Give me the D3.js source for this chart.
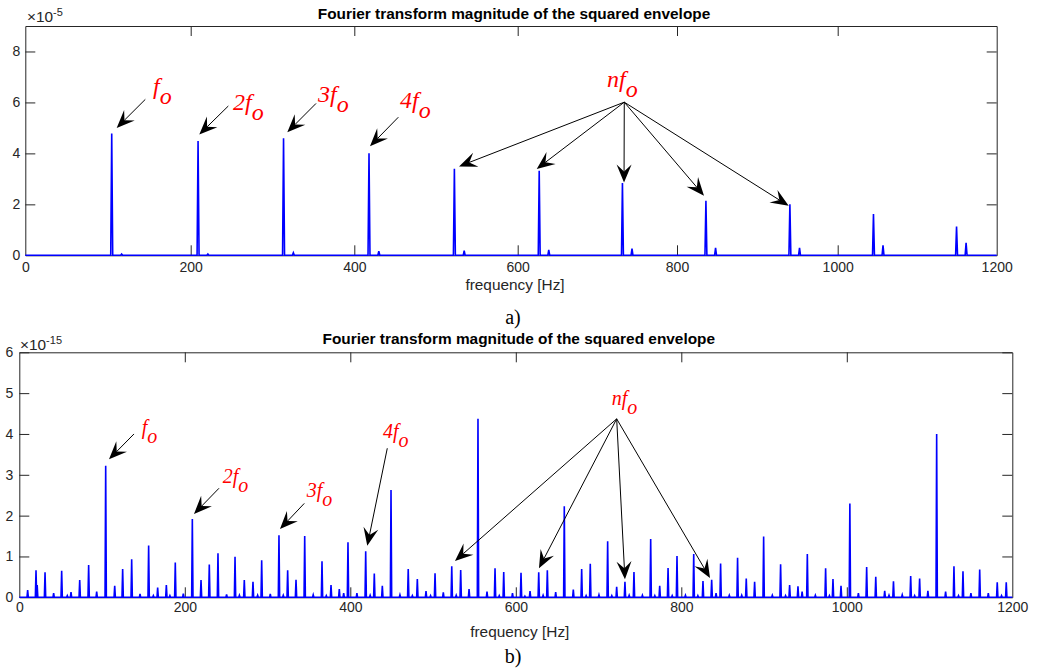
<!DOCTYPE html>
<html>
<head>
<meta charset="utf-8">
<script src="https://cdn.jsdelivr.net/npm/d3@7"></script>
<style>
body { margin: 0; background: #fff; }
svg { display: block; }
.tick text { font-family: "Liberation Sans", Arial, sans-serif; font-size: 14px; fill: #262626; }
.tick line, .domain { stroke: #262626; stroke-width: 1; }
</style>
</head>
<body>
<svg id="chart" width="1038" height="668"></svg>
<script>
// ---- data ----
const xTicks = [0, 200, 400, 600, 800, 1000, 1200];
const topYTicks = [0, 2, 4, 6, 8];
const bottomYTicks = [0, 1, 2, 3, 4, 5, 6];

// panel a): harmonic peaks (x1e-5) and their small side peaks
const topPeakFreq = [104.5, 209, 313.5, 418, 522.5, 627, 731.5, 836, 940.5, 1045, 1149.5];
const topPeakMag = [4.78, 4.49, 4.59, 4.01, 3.40, 3.32, 2.84, 2.14, 2.00, 1.62, 1.13];
const topSideFreq = [116.5, 221, 325.5, 430, 534.5, 639, 743.5, 848, 952.5, 1057, 1161.5];
const topSideMag = [0.05, 0.05, 0.10, 0.16, 0.18, 0.21, 0.26, 0.29, 0.29, 0.39, 0.49];

// panel b): spectrum lines (x1e-15)
const bottomFreq = [10.1, 20.2, 21.6, 31.1, 41.5, 51.2, 58, 62.5, 73, 83.8, 93.5, 104.4, 115.3, 124.9, 135.8, 145.9,
  156.3, 162, 167.2, 177.7, 182, 188.5, 198.2, 209.1, 219.6, 229.6, 240.1, 250.5, 260.7, 266, 271.9, 282.4, 288,
  292.9, 303.3, 313.8, 319, 324.3, 334.4, 344.9, 355.2, 365.8, 371, 376.7, 386.7, 392, 397.2, 408, 418.6, 424, 429,
  438.7, 449.2, 460, 470, 475, 481, 491.5, 497, 502.4, 512.4, 522.6, 528, 533.4, 543.5, 554.3, 565.2, 574.9, 580,
  585.4, 596, 606.3, 611, 617.2, 627.7, 633, 638.1, 648.2, 658.6, 669.5, 679.6, 685, 690, 700.5, 711, 716, 721.9,
  731.9, 737, 742.8, 753, 763, 768, 773.9, 784, 789, 794.8, 805, 815, 820, 826.2, 836.7, 842, 847.5, 858, 868, 873,
  878.5, 888.6, 899.5, 910, 920, 926, 930.9, 941, 946, 952.3, 962, 974.4, 979, 983.3, 993, 1003.7, 1014, 1024, 1035,
  1045.8, 1051, 1056.4, 1067, 1077.2, 1082, 1088, 1098, 1108.6, 1119.4, 1129.5, 1135, 1140.4, 1150, 1160.6, 1171,
  1181.8, 1187, 1192.7];
const bottomMag = [0.18, 0.66, 0.30, 0.61, 0.10, 0.65, 0.04, 0.13, 0.42, 0.79, 0.14, 3.22, 0.28, 0.69, 0.93, 0.08,
  1.27, 0.04, 0.24, 0.30, 0.04, 0.85, 0.09, 1.92, 0.42, 0.80, 1.08, 0.07, 0.99, 0.05, 0.42, 0.38, 0.05,
  0.91, 0.08, 1.52, 0.05, 0.66, 0.43, 1.50, 0.06, 0.88, 0.04, 0.30, 0.20, 0.10, 1.35, 0.10, 1.13, 0.05, 0.58,
  0.28, 2.63, 0.06, 0.69, 0.04, 0.45, 0.15, 0.04, 0.59, 0.12, 0.76, 0.05, 0.67, 0.20, 4.37, 0.14, 0.71, 0.04,
  0.62, 0.10, 0.60, 0.03, 0.15, 0.61, 0.05, 0.66, 0.13, 2.23, 0.19, 0.69, 0.04, 0.82, 0.06, 1.37, 0.04, 0.26,
  0.38, 0.05, 0.62, 0.05, 1.43, 0.04, 0.28, 0.72, 0.04, 1.01, 0.05, 1.06, 0.04, 0.40, 0.43, 0.10, 0.83, 0.05, 0.97, 0.05,
  0.46, 0.38, 1.49, 0.05, 0.81, 0.04, 0.30, 0.27, 0.14, 1.06, 0.05, 0.71, 0.04, 0.45, 0.28, 2.30, 0.10, 0.74, 0.50,
  0.16, 0.05, 0.39, 0.06, 0.52, 0.04, 0.46, 0.16, 4.00, 0.14, 0.76, 0.04, 0.64, 0.10, 0.68, 0.10,
  0.37, 0.04, 0.37];

const svg = d3.select("#chart");

function spectrumPoints(freqs, mags, halfWidth) {
  const pts = [[0, 0]];
  d3.range(freqs.length)
    .sort(function (a, b) { return freqs[a] - freqs[b]; })
    .forEach(function (i) {
      pts.push([freqs[i] - halfWidth, 0], [freqs[i], mags[i]], [freqs[i] + halfWidth, 0]);
    });
  pts.push([1200, 0]);
  return pts;
}

function drawArrow(g, x1, y1, x2, y2) {
  const dx = x2 - x1, dy = y2 - y1, len = Math.hypot(dx, dy);
  const ux = dx / len, uy = dy / len, px = -uy, py = ux;
  const L = 18, W = 7.5, N = 11;
  const bx = x2 - ux * L, by = y2 - uy * L;
  const nx = x2 - ux * N, ny = y2 - uy * N;
  g.append("line")
    .attr("x1", x1).attr("y1", y1).attr("x2", nx).attr("y2", ny)
    .attr("stroke", "#000").attr("stroke-width", 1);
  g.append("path")
    .attr("d", `M${x2},${y2}L${bx + px * W},${by + py * W}L${nx},${ny}L${bx - px * W},${by - py * W}Z`)
    .attr("fill", "#000");
}

function drawPanel(p) {
  const g = svg.append("g");
  const x = p.x, y = p.y;
  const left = x.range()[0], right = x.range()[x.range().length - 1];
  const top = y.range()[1], bottom = y.range()[0];

  // axes (MATLAB style: inward ticks on all four sides)
  g.append("g").attr("transform", `translate(0,${bottom})`)
    .call(d3.axisBottom(x).tickValues(xTicks).tickSize(-10).tickSizeOuter(0).tickPadding(p.xPad).tickFormat(d3.format("d")));
  g.append("g").attr("transform", `translate(0,${top})`)
    .call(d3.axisTop(x).tickValues(xTicks).tickSize(-10).tickSizeOuter(0).tickFormat(""));
  g.append("g").attr("transform", `translate(${left},0)`)
    .call(d3.axisLeft(y).tickValues(p.yTicks).tickSize(-10).tickSizeOuter(0).tickPadding(p.yPad).tickFormat(d3.format("d")));
  g.append("g").attr("transform", `translate(${right},0)`)
    .call(d3.axisRight(y).tickValues(p.yTicks).tickSize(-10).tickSizeOuter(0).tickFormat(""));
  g.selectAll(".tick").filter(function (d) { return d === 0 || d === 1200; }).select("line").remove();

  // spectrum
  const line = d3.line().x(function (d) { return x(d[0]); }).y(function (d) { return y(d[1]); });
  g.append("path")
    .attr("d", line(p.points))
    .attr("fill", "none")
    .attr("stroke", "#0000ff")
    .attr("stroke-width", 1.6)
    .attr("stroke-linejoin", "miter");

  // title, exponent, labels
  g.append("text")
    .attr("x", (left + right) / 2 + 3).attr("y", p.titleY)
    .attr("text-anchor", "middle")
    .style("font", "bold 15.4px 'Liberation Sans', Arial, sans-serif")
    .attr("fill", "#000")
    .text("Fourier transform magnitude of the squared envelope");
  const ex = g.append("text")
    .attr("x", p.expX).attr("y", p.expY)
    .style("font", "15.4px 'Liberation Sans', Arial, sans-serif")
    .attr("fill", "#262626");
  ex.append("tspan").text("\u00d710");
  ex.append("tspan").attr("dy", -6).style("font-size", "11px").text(p.exponent);
  g.append("text")
    .attr("x", (left + right) / 2 + 4).attr("y", p.xlabelY)
    .attr("text-anchor", "middle")
    .style("font", "15.4px 'Liberation Sans', Arial, sans-serif")
    .attr("fill", "#262626")
    .text("frequency [Hz]");
  g.append("text")
    .attr("x", 513).attr("y", p.captionY)
    .attr("text-anchor", "middle")
    .style("font", "20px 'Liberation Serif', 'Times New Roman', serif")
    .attr("fill", "#000")
    .text(p.caption);

  // annotations
  p.notes.forEach(function (n) {
    const t = g.append("text")
      .attr("x", x(n.at[0])).attr("y", y(n.at[1]))
      .style("font", `italic ${p.noteSize}px 'Liberation Serif', 'Times New Roman', serif`)
      .attr("fill", "#ff0000");
    t.append("tspan").text(n.label + "f");
    t.append("tspan").attr("dy", p.subDrop).text("o");
    n.arrows.forEach(function (a) {
      drawArrow(g, x(n.from[0]), y(n.from[1]), x(a[0]), y(a[1]));
    });
  });
}

drawPanel({
  x: d3.scaleLinear().domain(xTicks).range([25.3, 190.7, 354.3, 517.7, 677, 837.7, 996.7]),
  y: d3.scaleLinear().domain([0, 9]).range([255.3, 26]),
  yTicks: topYTicks,
  xPad: 7, yPad: 5,
  points: spectrumPoints(topPeakFreq.concat(topSideFreq), topPeakMag.concat(topSideMag), 1.2),
  titleY: 19, expX: 27, expY: 22, exponent: "-5",
  xlabelY: 290, captionY: 324, caption: "a)",
  noteSize: 24, subDrop: 10,
  notes: [
    { label: "", at: [154.4, 6.32], from: [145.1, 6.12], arrows: [[110.5, 5.0]] },
    { label: "2", at: [251.7, 5.69], from: [246, 5.86], arrows: [[210.5, 4.74]] },
    { label: "3", at: [355.6, 6.0], from: [353.2, 5.96], arrows: [[318.1, 4.83]] },
    { label: "4", at: [456, 5.8], from: [453.9, 5.42], arrows: [[419.2, 4.28]] },
    { label: "n", at: [712.1, 6.59], from: [733.8, 6.01],
      arrows: [[528.2, 3.49], [623.9, 3.39], [733.5, 2.86], [833.6, 2.34], [939, 1.94]] }
  ]
});

drawPanel({
  x: d3.scaleLinear().domain([0, 1200]).range([19.3, 1012.3]),
  y: d3.scaleLinear().domain([0, 6]).range([597.3, 352.3]),
  yTicks: bottomYTicks,
  xPad: 5, yPad: 6,
  points: spectrumPoints(bottomFreq, bottomMag, 0.8),
  titleY: 344, expX: 20, expY: 350, exponent: "-15",
  xlabelY: 637, captionY: 663, caption: "b)",
  noteSize: 20, subDrop: 9,
  notes: [
    { label: "", at: [147.9, 4.0], from: [138.6, 4.0], arrows: [[108.4, 3.38]] },
    { label: "2", at: [245.8, 2.79], from: [241.3, 2.67], arrows: [[211.1, 2.04]] },
    { label: "3", at: [347.3, 2.46], from: [344.4, 2.30], arrows: [[315, 1.67]] },
    { label: "4", at: [439.5, 3.9], from: [444.7, 3.65], arrows: [[420.5, 1.26]] },
    { label: "n", at: [715.9, 4.71], from: [721.9, 4.37],
      arrows: [[526.5, 0.89], [628, 0.71], [731.9, 0.44], [834.7, 0.47]] }
  ]
});
</script>
</body>
</html>
